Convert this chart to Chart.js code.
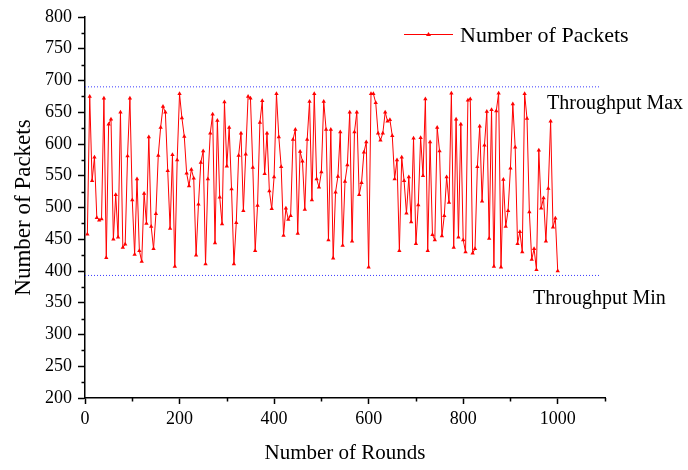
<!DOCTYPE html>
<html>
<head>
<meta charset="utf-8">
<script src="https://cdn.jsdelivr.net/npm/chart.js@4/dist/chart.umd.min.js"></script>
<style>
  body { margin: 0; background: #fff; }
  canvas { display: block; }
</style>
</head>
<body>
<canvas id="chart" width="688" height="470"></canvas>
<script>
// one sample every 5 rounds
var rounds = [
  5, 10, 15, 20, 25, 30, 35, 40, 45, 50, 55, 60, 65, 70, 75, 80, 85, 90, 95, 100,
  105, 110, 115, 120, 125, 130, 135, 140, 145, 150, 155, 160, 165, 170, 175, 180, 185, 190, 195, 200,
  205, 210, 215, 220, 225, 230, 235, 240, 245, 250, 255, 260, 265, 270, 275, 280, 285, 290, 295, 300,
  305, 310, 315, 320, 325, 330, 335, 340, 345, 350, 355, 360, 365, 370, 375, 380, 385, 390, 395, 400,
  405, 410, 415, 420, 425, 430, 435, 440, 445, 450, 455, 460, 465, 470, 475, 480, 485, 490, 495, 500,
  505, 510, 515, 520, 525, 530, 535, 540, 545, 550, 555, 560, 565, 570, 575, 580, 585, 590, 595, 600,
  605, 610, 615, 620, 625, 630, 635, 640, 645, 650, 655, 660, 665, 670, 675, 680, 685, 690, 695, 700,
  705, 710, 715, 720, 725, 730, 735, 740, 745, 750, 755, 760, 765, 770, 775, 780, 785, 790, 795, 800,
  805, 810, 815, 820, 825, 830, 835, 840, 845, 850, 855, 860, 865, 870, 875, 880, 885, 890, 895, 900,
  905, 910, 915, 920, 925, 930, 935, 940, 945, 950, 955, 960, 965, 970, 975, 980, 985, 990, 995, 1000
];

var packets = [
  458, 675, 542, 579, 484, 480, 482, 672, 421, 631, 639, 450, 520, 453, 650, 437, 442, 581, 672, 512,
  426, 545, 432, 415, 522, 475, 611, 470, 435, 490, 582, 626, 659, 650, 558, 467, 583, 407, 575, 679,
  641, 612, 554, 534, 560, 546, 425, 505, 571, 589, 411, 545, 617, 647, 444, 637, 516, 474, 666, 565,
  626, 529, 411, 476, 582, 617, 495, 584, 675, 672, 563, 432, 503, 634, 668, 553, 617, 526, 498, 548,
  679, 611, 564, 456, 499, 481, 487, 607, 623, 459, 588, 573, 497, 607, 667, 512, 679, 545, 532, 556,
  667, 623, 449, 623, 420, 524, 549, 619, 440, 541, 567, 650, 447, 619, 650, 520, 539, 587, 603, 406,
  679, 679, 665, 617, 606, 617, 650, 636, 638, 613, 545, 575, 432, 579, 542, 491, 548, 477, 609, 443,
  504, 610, 550, 671, 432, 603, 457, 449, 626, 589, 455, 487, 548, 508, 680, 437, 639, 453, 631, 449,
  430, 669, 671, 428, 435, 564, 628, 510, 598, 651, 451, 654, 407, 652, 680, 406, 544, 470, 495, 562,
  663, 595, 443, 462, 430, 679, 640, 493, 418, 435, 402, 590, 499, 515, 447, 530, 636, 469, 483, 400
];

var throughputMax = 690;
var throughputMin = 393;
var limitSpan = [0, 1088];

var serif = '"Liberation Serif", "Times New Roman", serif';

// short ticks between the labelled ones + the text labels on the plot
var extras = {
  id: 'extras',
  afterDraw: function(chart) {
    var ctx = chart.ctx;
    var xs = chart.scales.x, ys = chart.scales.y;
    var area = chart.chartArea;
    ctx.save();
    ctx.strokeStyle = '#000';
    ctx.lineWidth = 1.5;
    ctx.beginPath();
    for (var v = 100; v <= 1100; v += 200) {
      var px = Math.round(xs.getPixelForValue(v)) + 0.5;
      ctx.moveTo(px, area.bottom);
      ctx.lineTo(px, area.bottom + 3.5);
    }
    for (var w = 225; w <= 775; w += 50) {
      var py = Math.round(ys.getPixelForValue(w)) + 0.5;
      ctx.moveTo(area.left, py);
      ctx.lineTo(area.left - 3.5, py);
    }
    ctx.stroke();

    // legend
    ctx.strokeStyle = '#ff0000';
    ctx.fillStyle = '#ff0000';
    ctx.lineWidth = 1;
    ctx.beginPath();
    ctx.moveTo(404, 34.5);
    ctx.lineTo(453, 34.5);
    ctx.stroke();
    ctx.beginPath();
    ctx.moveTo(428.5, 32);
    ctx.lineTo(431, 36);
    ctx.lineTo(426, 36);
    ctx.closePath();
    ctx.fill();

    ctx.fillStyle = '#000';
    ctx.textBaseline = 'alphabetic';
    ctx.font = '22px ' + serif;
    ctx.fillText('Number of Packets', 460, 41.5);
    ctx.font = '20px ' + serif;
    ctx.fillText('Throughput Max', 547, 109);
    ctx.fillText('Throughput Min', 533, 304);
    ctx.restore();
  }
};

var points = rounds.map(function(r, i) { return {x: r, y: packets[i]}; });

new Chart(document.getElementById('chart'), {
  type: 'line',
  data: {
    datasets: [{
      label: 'Number of Packets',
      data: points,
      borderColor: '#ff0000',
      backgroundColor: '#ff0000',
      borderWidth: 1,
      pointStyle: 'triangle',
      pointRadius: 2.5,
      pointBorderWidth: 0,
      pointBackgroundColor: '#ff0000'
    }, {
      label: 'Throughput Max',
      data: [{x: limitSpan[0], y: throughputMax}, {x: limitSpan[1], y: throughputMax}],
      borderColor: '#3a3aff',
      borderWidth: 1,
      borderDash: [1, 2],
      pointRadius: 0
    }, {
      label: 'Throughput Min',
      data: [{x: limitSpan[0], y: throughputMin}, {x: limitSpan[1], y: throughputMin}],
      borderColor: '#3a3aff',
      borderWidth: 1,
      borderDash: [1, 2],
      pointRadius: 0
    }]
  },
  options: {
    responsive: false,
    animation: false,
    layout: { padding: { left: 0, top: 17, right: 83, bottom: 0 } },
    plugins: {
      legend: { display: false },
      tooltip: { enabled: false }
    },
    scales: {
      x: {
        type: 'linear',
        min: 0,
        max: 1100,
        afterFit: function(s) { s.height = 72; },
        border: { color: '#000', width: 1.5 },
        grid: { drawOnChartArea: false, tickLength: 6, tickColor: '#000', tickWidth: 1.5 },
        ticks: {
          stepSize: 200,
          includeBounds: false,
          color: '#000',
          padding: 4,
          maxRotation: 0,
          font: { family: serif, size: 18 },
          callback: function(v) { return String(v); }
        },
        title: {
          display: true,
          text: 'Number of Rounds',
          color: '#000',
          font: { family: serif, size: 21 },
          padding: { top: 0, bottom: 4 }
        }
      },
      y: {
        min: 200,
        max: 800,
        afterFit: function(s) { s.width = 85; },
        border: { color: '#000', width: 1.5 },
        grid: { drawOnChartArea: false, tickLength: 7, tickColor: '#000', tickWidth: 1.5 },
        ticks: {
          stepSize: 50,
          color: '#000',
          padding: 6,
          font: { family: serif, size: 18 },
          callback: function(v) { return String(v); }
        },
        title: {
          display: true,
          text: 'Number of Packets',
          color: '#000',
          font: { family: serif, size: 23 },
          padding: { top: 10, bottom: 0 }
        }
      }
    }
  },
  plugins: [extras]
});
</script>
</body>
</html>
